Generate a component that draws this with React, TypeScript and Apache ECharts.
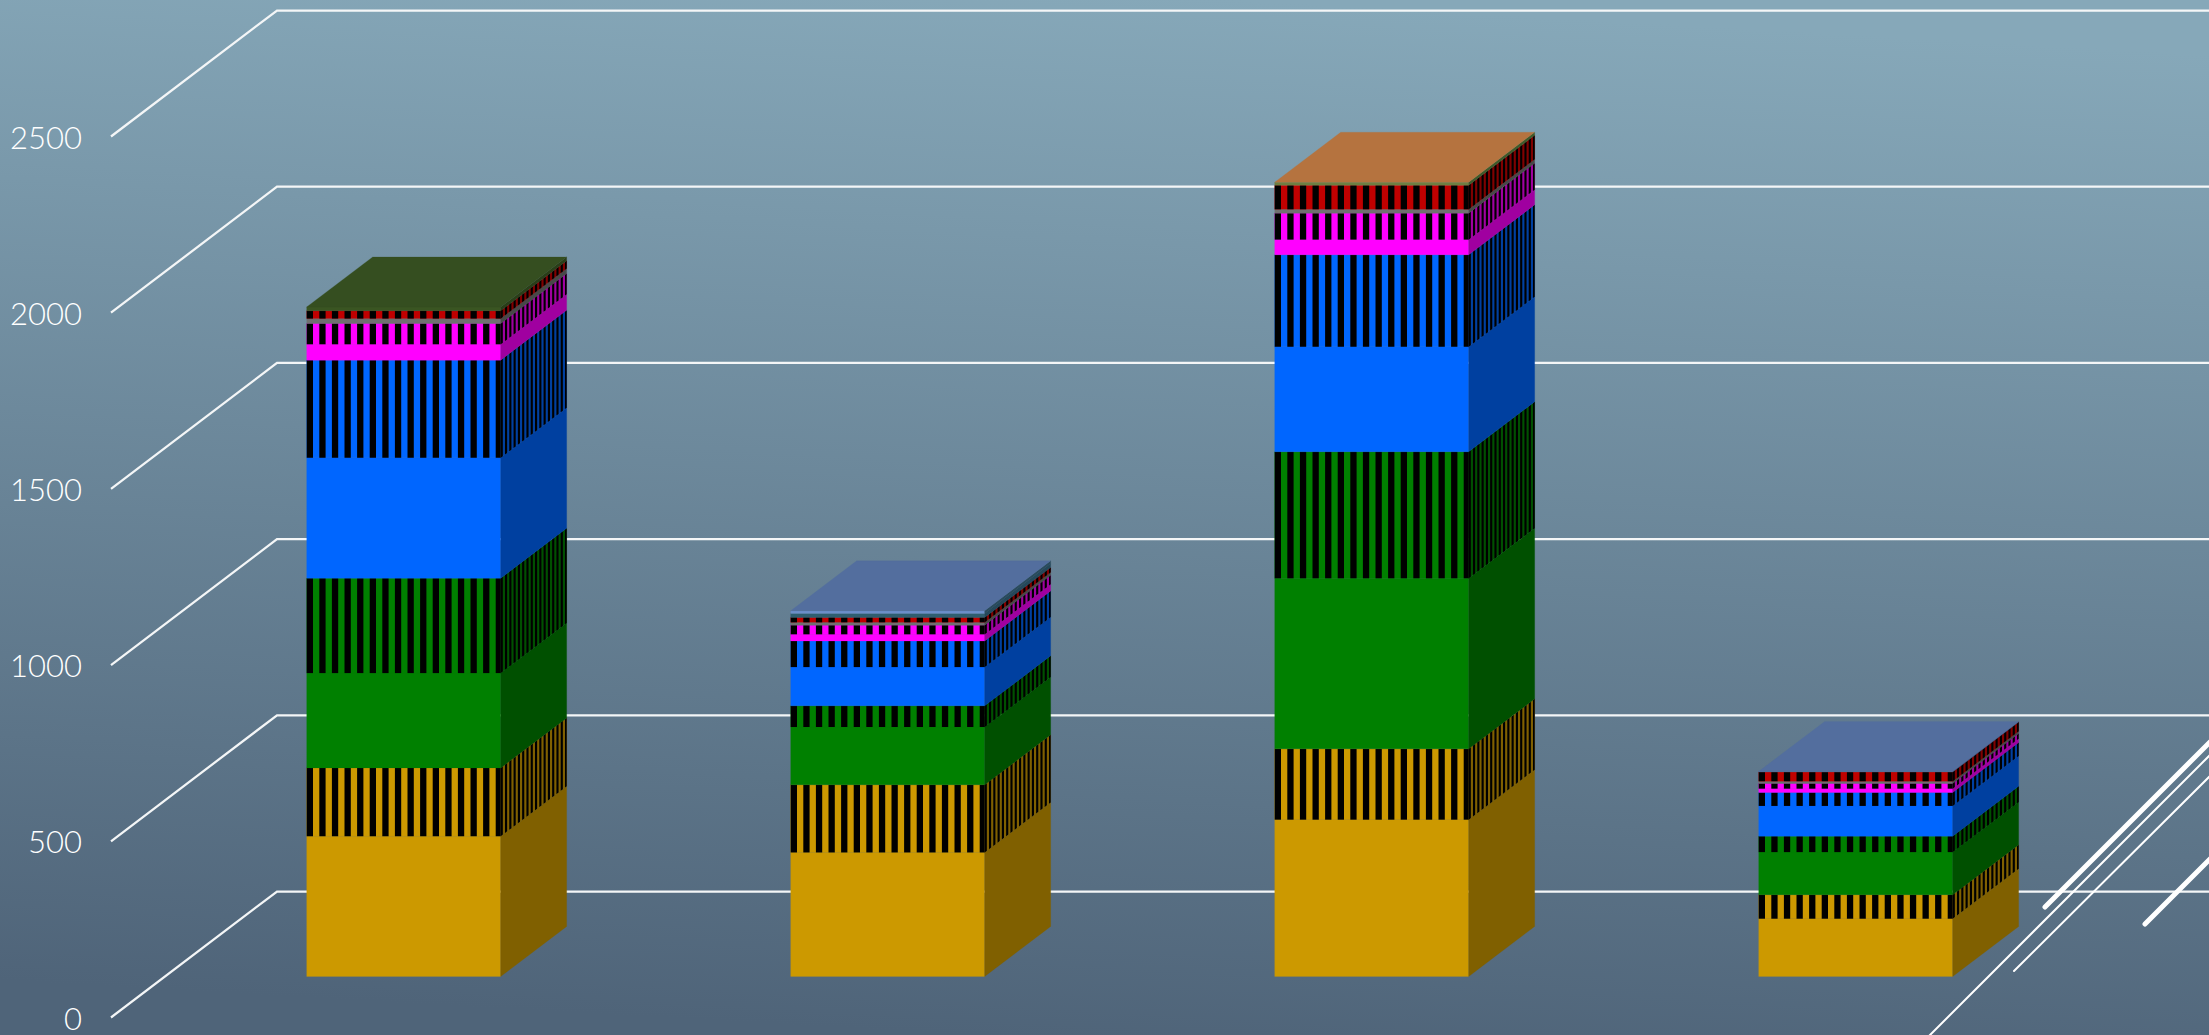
import React, { useEffect, useRef } from "react";
import * as echarts from "echarts";

const categories = ["Group 1", "Group 2", "Group 3", "Group 4"];
const tickValues = [0, 500, 1000, 1500, 2000, 2500];

const goldSolid = [398, 352, 445, 164];
const goldStriped = [194, 192, 201, 68];
const greenSolid = [269, 164, 484, 121];
const greenStriped = [269, 60, 359, 45];
const blueSolid = [342, 110, 298, 86];
const blueStriped = [277, 74, 261, 38];
const magentaSolid = [45, 19, 43, 11];
const magentaStriped = [59, 26, 75, 15];
const graySolid = [14, 8, 11, 6];
const redStriped = [22, 14, 68, 26];
const tealSolid = [0, 11, 0, 0];
const capValues = [11, 8, 9, 2];

const capFront = ["#3A5522", "#6C8FC8", "#6E7F42", "#536E9E"];
const capSide = ["#2A3E18", "#2A4A5C", "#3F5A2A", "#3A4F78"];
const capTop = ["#354E20", "#536E9E", "#B5733F", "#536E9E"];

const stack = [
  { name: "Gold", values: goldSolid, front: "#CC9900", side: "#806000", striped: false },
  { name: "Gold pattern", values: goldStriped, front: "#CC9900", side: "#806000", striped: true },
  { name: "Green", values: greenSolid, front: "#008000", side: "#005000", striped: false },
  { name: "Green pattern", values: greenStriped, front: "#008000", side: "#005000", striped: true },
  { name: "Blue", values: blueSolid, front: "#0066FF", side: "#0040A0", striped: false },
  { name: "Blue pattern", values: blueStriped, front: "#0066FF", side: "#0040A0", striped: true },
  { name: "Magenta", values: magentaSolid, front: "#FF00FF", side: "#A000A0", striped: false },
  { name: "Magenta pattern", values: magentaStriped, front: "#FF00FF", side: "#A000A0", striped: true },
  { name: "Gray", values: graySolid, front: "#707070", side: "#484848", striped: false },
  { name: "Red pattern", values: redStriped, front: "#C00000", side: "#800000", striped: true },
  { name: "Teal", values: tealSolid, front: "#2F5F70", side: "#24485A", striped: false },
];

// Projection of the 3D box on the page
const WALL_DX = 166;
const WALL_DY = -126;
const BAR_DX = 50.7;
const BAR_DY = -41;
const BAR_W = 194;
const DEPTH_DX = 66;
const DEPTH_DY = -50;
const STRIPE_PERIOD = 12.6;

function poly(points: number[][], fill: string) {
  return { type: "polygon", shape: { points }, style: { fill, stroke: fill, lineWidth: 0.2 } };
}

function box(api: any, color: { front: string; side: string; striped: boolean; top?: string }) {
  const cat = api.value(0);
  const lo = api.coord([cat, api.value(1)]);
  const hi = api.coord([cat, api.value(1) + api.value(2)]);
  const left = lo[0] - BAR_W / 2 + BAR_DX;
  const right = left + BAR_W;
  const yb = lo[1] + BAR_DY;
  const yt = hi[1] + BAR_DY;
  const children: any[] = [];
  if (api.value(2) <= 0) return { type: "group", children };
  children.push(poly([[left, yt], [right, yt], [right, yb], [left, yb]], color.front));
  children.push(
    poly(
      [
        [right, yt],
        [right + DEPTH_DX, yt + DEPTH_DY],
        [right + DEPTH_DX, yb + DEPTH_DY],
        [right, yb],
      ],
      color.side
    )
  );
  if (color.striped) {
    const n = Math.ceil(BAR_W / STRIPE_PERIOD);
    for (let i = 0; i < n; i++) {
      const x0 = left + i * STRIPE_PERIOD;
      const x1 = Math.min(x0 + STRIPE_PERIOD / 2, right);
      children.push({
        type: "rect",
        shape: { x: x0, y: yt, width: x1 - x0, height: yb - yt },
        style: { fill: "#000000" },
      });
      const t0 = (i * STRIPE_PERIOD) / BAR_W;
      const t1 = Math.min(1, ((i + 0.5) * STRIPE_PERIOD) / BAR_W);
      children.push({
        type: "polygon",
        shape: {
          points: [
            [right + DEPTH_DX * t0, yt + DEPTH_DY * t0],
            [right + DEPTH_DX * t1, yt + DEPTH_DY * t1],
            [right + DEPTH_DX * t1, yb + DEPTH_DY * t1],
            [right + DEPTH_DX * t0, yb + DEPTH_DY * t0],
          ],
        },
        style: { fill: "#000000" },
      });
    }
  }
  if (color.top) {
    children.push(
      poly(
        [
          [left, yt],
          [left + DEPTH_DX, yt + DEPTH_DY],
          [right + DEPTH_DX, yt + DEPTH_DY],
          [right, yt],
        ],
        color.top
      )
    );
  }
  return { type: "group", children };
}

export default function App() {
  const ref = useRef<HTMLDivElement>(null);
  useEffect(() => {
    document.body.style.margin = "0";
    const chart = echarts.init(ref.current!, undefined, { renderer: "svg" });

    const bases = categories.map(() => 0);
    const stackSeries = stack.map((s) => {
      const data = s.values.map((v, i) => {
        const row = [i, bases[i], v];
        bases[i] += v;
        return row;
      });
      return {
        type: "custom",
        name: s.name,
        data,
        z: 3,
        clip: false,
        encode: { x: 0, y: 1 },
        renderItem: (_p: any, api: any) => box(api, s),
      };
    });
    const capSeries = {
      type: "custom",
      name: "Cap",
      data: capValues.map((v, i) => [i, bases[i], v]),
      z: 4,
      clip: false,
      encode: { x: 0, y: 1 },
      renderItem: (_p: any, api: any) => {
        const i = api.value(0);
        return box(api, { front: capFront[i], side: capSide[i], striped: false, top: capTop[i] });
      },
    };
    const gridSeries = {
      type: "custom",
      name: "Gridlines",
      data: tickValues.map((v) => [0, v]),
      z: 1,
      clip: false,
      encode: { x: 0, y: 1 },
      renderItem: (p: any, api: any) => {
        const y = api.coord([0, api.value(1)])[1];
        const x0 = p.coordSys.x;
        return {
          type: "polyline",
          shape: {
            points: [
              [x0, y],
              [x0 + WALL_DX, y + WALL_DY],
              [x0 + WALL_DX + p.coordSys.width, y + WALL_DY],
            ],
          },
          style: { stroke: "#F4F6F7", lineWidth: 2.25, fill: "none" },
        };
      },
    };

    const deco = (x1: number, y1: number, x2: number, y2: number, lineWidth: number) => ({
      type: "line",
      shape: { x1, y1, x2, y2 },
      style: { stroke: "#FFFFFF", lineWidth, lineCap: "round" },
      z: 10,
    });

    chart.setOption({
      animation: false,
      backgroundColor: {
        type: "linear",
        x: 0.56,
        y: 0,
        x2: 0.44,
        y2: 1,
        colorStops: [
          { offset: 0, color: "#86A8B9" },
          { offset: 1, color: "#4F6479" },
        ],
      },
      grid: { left: 111, top: 136.5, width: 1936, height: 881.5, containLabel: false },
      xAxis: { type: "category", data: categories, show: false },
      yAxis: {
        type: "value",
        min: 0,
        max: 2500,
        interval: 500,
        axisLine: { show: false },
        axisTick: { show: false },
        splitLine: { show: false },
        axisLabel: {
          color: "#FFFFFF",
          fontFamily: "Lato",
          fontWeight: 300,
          fontSize: 31,
          margin: 29,
          lineHeight: 30,
          padding: [0, 0, 5, 0],
          formatter: (v: number) => String(v),
        },
      },
      graphic: {
        elements: [
          deco(2045, 907, 2215, 737, 5),
          deco(2145, 924, 2215, 854, 5),
          deco(1925, 1040, 2215, 750, 2),
          deco(2014, 971, 2215, 771, 2),
        ],
      },
      series: [gridSeries, ...stackSeries, capSeries],
    });
    return () => chart.dispose();
  }, []);
  return <div ref={ref} style={{ position: "fixed", left: 0, top: 0, width: 2209, height: 1035 }} />;
}
